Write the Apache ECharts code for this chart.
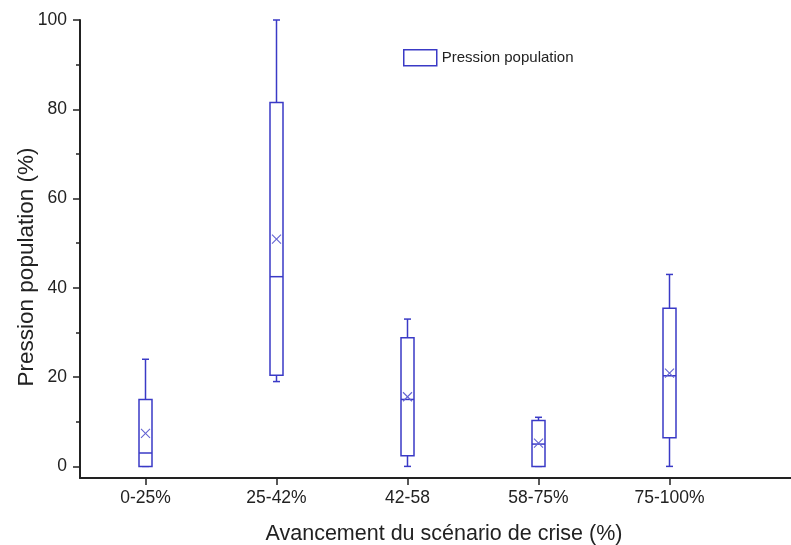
<!DOCTYPE html>
<html>
<head>
<meta charset="utf-8">
<script src="https://cdn.jsdelivr.net/npm/echarts@6/dist/echarts.min.js"></script>
<style>html,body{margin:0;padding:0;background:#fff}#c{width:791px;height:545px}</style>
</head>
<body>
<div id="c"></div>
<script>
// ---- data ----
const categories = ['0-25%', '25-42%', '42-58', '58-75%', '75-100%'];
const whiskerLow  = [0, 19, 0, 0, 0];
const q1          = [0, 20.4, 2.4, 0, 6.4];
const median      = [3, 42.5, 15, 5, 20.3];
const q3          = [15, 81.5, 28.8, 10.3, 35.4];
const whiskerHigh = [24, 100, 33, 11, 43];
const mean        = [7.4, 50.9, 15.6, 5.2, 20.9];
const yTicks      = [0, 20, 40, 60, 80, 100];
const yMinorTicks = [10, 30, 50, 70, 90];
const yMin = -2.6, yMax = 100;
const seriesName = 'Pression population';

const COLOR = '#3a3ac6';
const MEANCOLOR = '#6262d2';
const AXIS = '#222';
const FONT = 'Liberation Sans, Arial, sans-serif';

const boxData = categories.map((c, i) => [i, whiskerLow[i], q1[i], median[i], q3[i], whiskerHigh[i], mean[i]]);

function renderItem(params, api) {
  const x = api.value(0);
  const lo = api.coord([x, api.value(1)]);
  const b1 = api.coord([x, api.value(2)]);
  const md = api.coord([x, api.value(3)]);
  const b3 = api.coord([x, api.value(4)]);
  const hi = api.coord([x, api.value(5)]);
  const mn = api.coord([x, api.value(6)]);
  const cx = lo[0];
  const bw = 13, cw = 7, mk = 4.5;
  const st = { stroke: COLOR, lineWidth: 1.5, fill: null };
  const line = (x1, y1, x2, y2, s) => ({ type: 'line', shape: { x1, y1, x2, y2 }, style: s || st });
  const ms = { stroke: MEANCOLOR, lineWidth: 1.1, fill: null };
  return {
    type: 'group',
    children: [
      line(cx, b3[1], cx, hi[1]),
      line(cx, b1[1], cx, lo[1]),
      line(cx - cw / 2, hi[1], cx + cw / 2, hi[1]),
      line(cx - cw / 2, lo[1], cx + cw / 2, lo[1]),
      { type: 'rect', shape: { x: cx - bw / 2, y: b3[1], width: bw, height: b1[1] - b3[1] }, style: { stroke: COLOR, lineWidth: 1.5, fill: '#fff' } },
      line(cx - bw / 2, md[1], cx + bw / 2, md[1]),
      line(cx - mk, mn[1] - mk, cx + mk, mn[1] + mk, ms),
      line(cx - mk, mn[1] + mk, cx + mk, mn[1] - mk, ms)
    ]
  };
}

const chart = echarts.init(document.getElementById('c'), null, { renderer: 'canvas' });
chart.setOption({
  animation: false,
  backgroundColor: '#fff',
  textStyle: { fontFamily: FONT },
  legend: {
    left: 398, top: 44,
    itemWidth: 33, itemHeight: 16, itemGap: 10,
    textStyle: { fontSize: 15, color: '#222', fontFamily: FONT },
    data: [{ name: seriesName, icon: 'rect', itemStyle: { color: '#fff', borderColor: COLOR, borderWidth: 1.5 } }]
  },
  grid: [
    { left: 80, right: 56, top: 20, bottom: 67, containLabel: false, outerBoundsMode: 'none' },
    { left: 80, right: 0, top: 20, bottom: 67, containLabel: false, outerBoundsMode: 'none' }
  ],
  xAxis: [
    {
      type: 'category', gridIndex: 0, data: categories,
      axisLine: { show: false, onZero: false },
      axisTick: { show: true, inside: false, alignWithLabel: true, length: 7, lineStyle: { color: AXIS, width: 1.5 } },
      axisLabel: { interval: 0, fontSize: 17.5, color: '#222', margin: 11, fontFamily: FONT }
    },
    {
      type: 'category', gridIndex: 1, data: categories,
      axisLine: { onZero: false, lineStyle: { color: AXIS, width: 2 } },
      axisTick: { show: false },
      axisLabel: { show: false },
      name: 'Avancement du scénario de crise (%)',
      nameLocation: 'middle', nameGap: 45, nameMoveOverlap: false,
      nameTextStyle: { fontSize: 21.5, color: '#222', fontFamily: FONT, padding: [0, 0, 0, 17] }
    }
  ],
  yAxis: [
    {
      type: 'value', gridIndex: 0, min: yMin, max: yMax,
      axisLine: { show: true, onZero: false, lineStyle: { color: AXIS, width: 2 } },
      axisTick: { show: true, length: 7, customValues: yTicks, lineStyle: { color: AXIS, width: 1.5 } },
      splitLine: { show: false },
      axisLabel: { fontSize: 17.5, color: '#222', margin: 13, fontFamily: FONT, customValues: yTicks },
      name: 'Pression population (%)',
      nameLocation: 'middle', nameGap: 42, nameRotate: 90, nameMoveOverlap: false,
      nameTextStyle: { fontSize: 22.5, color: '#222', fontFamily: FONT, padding: [0, 36, 0, 0] }
    },
    {
      type: 'value', gridIndex: 0, min: yMin, max: yMax, position: 'left',
      axisLine: { show: false, onZero: false },
      axisTick: { show: true, length: 4, customValues: yMinorTicks, lineStyle: { color: AXIS, width: 1.5 } },
      axisLabel: { show: false },
      splitLine: { show: false }
    },
    {
      type: 'value', gridIndex: 1, min: yMin, max: yMax, show: false
    }
  ],
  series: [{
    name: seriesName,
    type: 'custom',
    xAxisIndex: 0, yAxisIndex: 0,
    itemStyle: { color: '#fff', borderColor: COLOR },
    renderItem: renderItem,
    encode: { x: 0, y: [1, 2, 3, 4, 5, 6] },
    data: boxData,
    clip: false
  }]
});
</script>
</body>
</html>
